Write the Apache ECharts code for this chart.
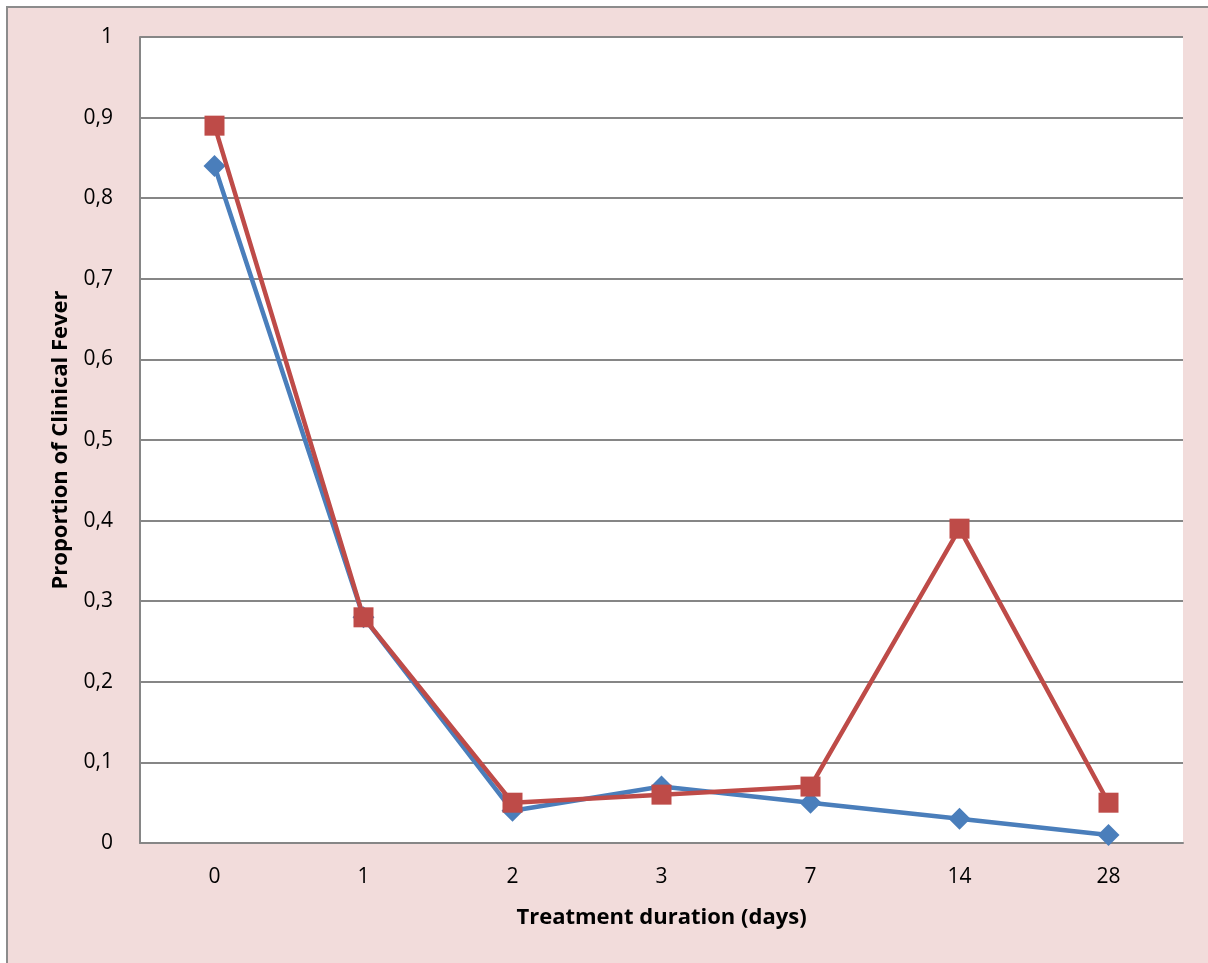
<!DOCTYPE html>
<html>
<head>
<meta charset="utf-8">
<script src="https://cdn.jsdelivr.net/npm/echarts@6/dist/echarts.min.js"></script>
<style>
  html, body { margin: 0; padding: 0; background: #ffffff; }
  #chart { width: 1208px; height: 963px; }
</style>
</head>
<body>
<div id="chart"></div>
<script>
// Treatment durations (days) along the x axis
const durations = ['0', '1', '2', '3', '7', '14', '28'];
// Proportion of clinical fever for each group
const seriesBlue = [0.84, 0.28, 0.04, 0.07, 0.05, 0.03, 0.01];
const seriesRed = [0.89, 0.28, 0.05, 0.06, 0.07, 0.39, 0.05];

const FONT = '"Open Sans", "Noto Sans", sans-serif';

const chart = echarts.init(document.getElementById('chart'), null, { renderer: 'canvas' });
chart.setOption({
  animation: false,
  backgroundColor: '#ffffff',
  graphic: [{
    type: 'rect',
    z: -10,
    silent: true,
    shape: { x: 7, y: 7, width: 1220, height: 980 },
    style: { fill: '#F2DCDB', stroke: '#8c8c8c', lineWidth: 2 }
  }, {
    type: 'rect',
    z: -5,
    silent: true,
    shape: { x: 140, y: 37, width: 1043, height: 806 },
    style: { fill: '#ffffff' }
  }],
  grid: { left: 140, top: 37, width: 1043, height: 806, containLabel: false },
  xAxis: {
    type: 'category',
    data: durations,
    boundaryGap: true,
    name: 'Treatment duration (days)',
    nameLocation: 'middle',
    nameGap: 64,
    nameTextStyle: { fontFamily: FONT, fontSize: 22, fontWeight: 'bold', color: '#000' },
    axisLine: { lineStyle: { color: '#868686', width: 2 } },
    axisTick: { show: false },
    axisLabel: { fontFamily: FONT, fontSize: 21, color: '#000', margin: 24 },
    splitLine: { show: false }
  },
  yAxis: {
    type: 'value',
    min: 0,
    max: 1,
    interval: 0.1,
    name: 'Proportion of Clinical Fever',
    nameLocation: 'middle',
    nameGap: 68,
    nameRotate: 90,
    nameTextStyle: { fontFamily: FONT, fontSize: 22, fontWeight: 'bold', color: '#000' },
    axisLine: { show: true, lineStyle: { color: '#868686', width: 2 } },
    axisTick: { show: false },
    axisLabel: {
      fontFamily: FONT, fontSize: 21, color: '#000', margin: 27,
      formatter: v => (Math.round(v * 10) / 10).toString().replace('.', ',')
    },
    splitLine: { lineStyle: { color: '#868686', width: 2 } }
  },
  series: [{
    name: 'A',
    type: 'line',
    data: seriesBlue,
    symbol: 'diamond',
    symbolSize: 22,
    lineStyle: { color: '#4A7EBB', width: 4.5 },
    itemStyle: { color: '#4A7EBB' },
    z: 3
  }, {
    name: 'B',
    type: 'line',
    data: seriesRed,
    symbol: 'rect',
    symbolSize: 20,
    lineStyle: { color: '#BE4B48', width: 4.5 },
    itemStyle: { color: '#BE4B48' },
    z: 4
  }]
});
</script>
</body>
</html>
